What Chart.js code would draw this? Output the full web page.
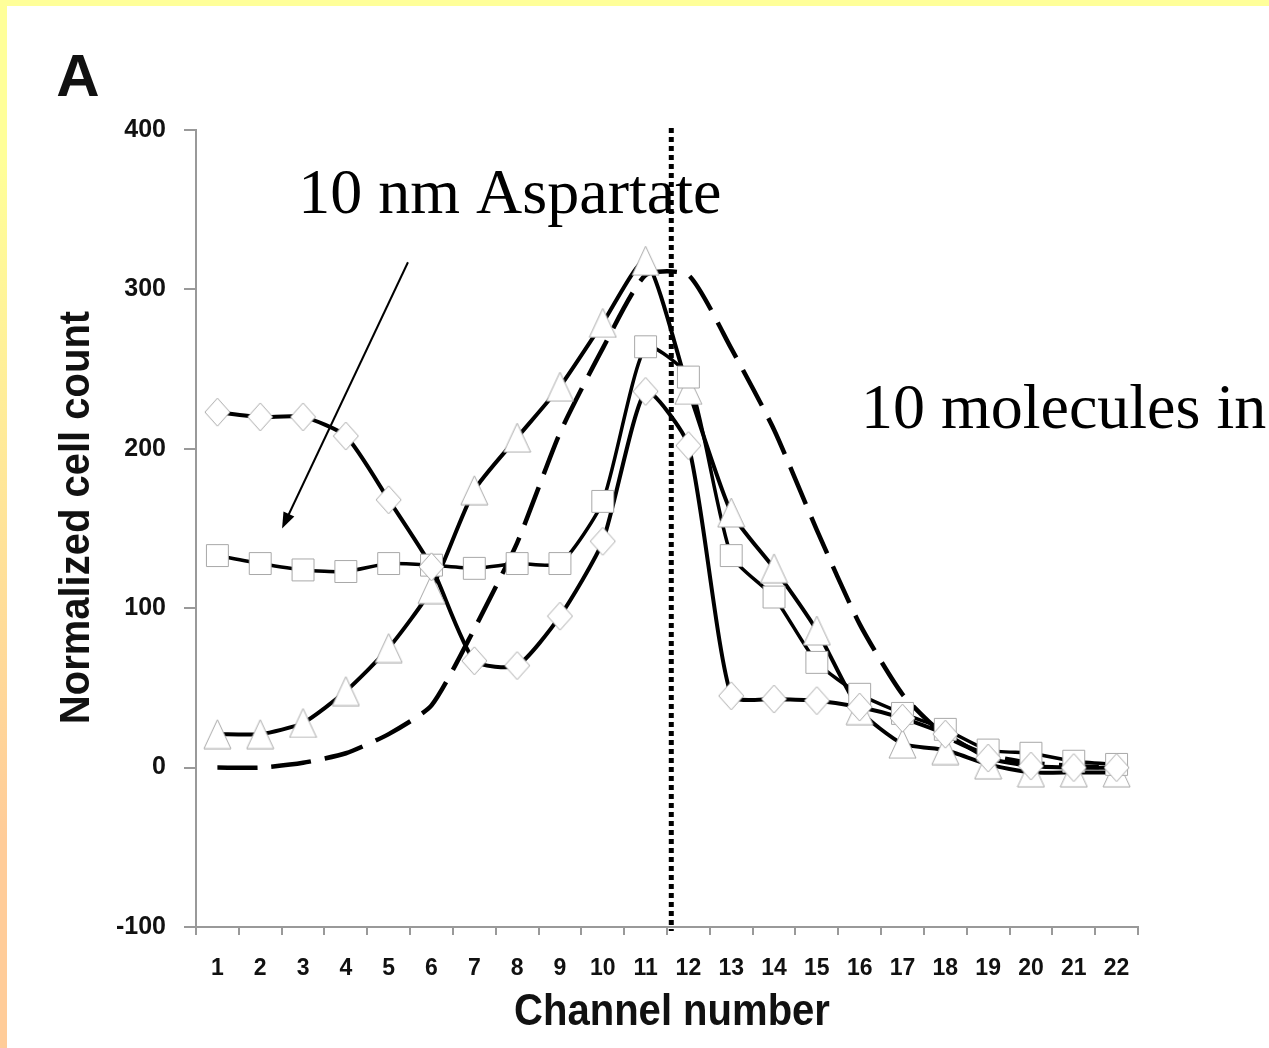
<!DOCTYPE html>
<html>
<head>
<meta charset="utf-8">
<script src="https://cdn.jsdelivr.net/npm/chart.js@4.4.1/dist/chart.umd.min.js"></script>
<style>
  html, body { margin: 0; padding: 0; background: #fff; }
  #wrap { position: relative; width: 1269px; height: 1048px; overflow: hidden; background: #fff; }
  #topband { position: absolute; left: 0; top: 0; width: 1269px; height: 6px; background: #ffff99; }
  #leftband { position: absolute; left: 0; top: 0; width: 7px; height: 1048px;
              background: linear-gradient(#ffff99 0%, #ffff99 15%, #ffcc99 80%, #ffcc99 100%); }
  canvas { position: absolute; left: 0; top: 0; }
</style>
</head>
<body>
<div id="wrap">
  <div id="topband"></div>
  <div id="leftband"></div>
  <canvas id="chart" width="1269" height="1048"></canvas>
</div>
<script>
// channel categories and the four curves
const channels = ['1', '2', '3', '4', '5', '6', '7', '8', '9', '10', '11',
                  '12', '13', '14', '15', '16', '17', '18', '19', '20', '21', '22'];
const diamondCounts  = [223, 220, 220, 208, 168, 126, 67, 64, 95, 142, 236, 202, 45, 43, 42, 38, 31, 21, 6, 1, 0, 0];
const squareCounts   = [133, 128, 124, 123, 128, 127, 125, 128, 128, 167, 264, 245, 133, 107, 66, 46, 34, 24, 11, 9, 4, 2];
const triangleCounts = [21, 21, 28, 48, 75, 112, 174, 207, 239, 279, 318, 237, 160, 125, 86, 36, 15, 11, 2, -3, -3, -3];
const plainCounts    = [0, 0, 3, 9, 21, 39, 87, 141, 210, 263, 309, 309, 263, 212, 149, 90, 46, 20, 8, 3, 1, 0];
const yTicks = [-100, 0, 100, 200, 300, 400];

// annotation anchors in data units (channel number, cell count)
const dividerChannel = 11.6;
const arrowFrom = [5.45, 317];
const arrowTo = [2.51, 150];
const labelAspartate = { text: '10 nm Aspartate', channel: 2.89, count: 348 };
const labelMolecules = { text: '10 molecules in', channel: 16.03, count: 213 };

const SANS = "'Liberation Sans', Arial, sans-serif";
const SERIF = "'Liberation Serif', 'Times New Roman', serif";

// hollow marker drawn on a little canvas so it can be taller than wide
function markerImage(w, h, shape) {
    const c = document.createElement('canvas');
    c.width = w + 2;
    c.height = h + 2;
    const g = c.getContext('2d');
    g.beginPath();
    if (shape === 'triangle') {
        g.moveTo(1 + w / 2, 1);
        g.lineTo(1 + w, 1 + h);
        g.lineTo(1, 1 + h);
    } else {
        g.moveTo(1 + w / 2, 1);
        g.lineTo(1 + w, 1 + h / 2);
        g.lineTo(1 + w / 2, 1 + h);
        g.lineTo(1, 1 + h / 2);
    }
    g.closePath();
    g.fillStyle = '#fff';
    g.fill();
    g.strokeStyle = '#a8a8a8';
    g.lineWidth = 1;
    g.stroke();
    return c;
}

function lineSet(data, dash, width) {
    return {
        data: data,
        borderColor: '#000',
        borderWidth: width,
        borderDash: dash,
        pointRadius: 0,
        tension: 0.2,
        fill: false,
        order: 2
    };
}

function markerSet(data, style, radius) {
    return {
        data: data,
        showLine: false,
        pointStyle: style,
        pointRadius: radius,
        pointBackgroundColor: '#fff',
        pointBorderColor: '#a8a8a8',
        pointBorderWidth: 1,
        order: 1
    };
}

function drawSqueezed(ctx, text, x, y, font, sx, rot) {
    ctx.save();
    ctx.translate(x, y);
    if (rot) ctx.rotate(rot);
    ctx.scale(sx, 1);
    ctx.font = font;
    ctx.textAlign = 'center';
    ctx.textBaseline = 'middle';
    ctx.fillText(text, 0, 0);
    ctx.restore();
}

const annotations = {
    id: 'annotations',
    afterDatasetsDraw(chart) {
        const ctx = chart.ctx;
        const xs = chart.scales.x, ys = chart.scales.y;
        const area = chart.chartArea;
        const px = c => xs.getPixelForValue(c - 1);
        const py = v => ys.getPixelForValue(v);

        ctx.save();
        // dotted divider
        ctx.strokeStyle = '#000';
        ctx.lineWidth = 5;
        ctx.setLineDash([5, 4]);
        ctx.beginPath();
        ctx.moveTo(px(dividerChannel), area.top - 2);
        ctx.lineTo(px(dividerChannel), area.bottom + 4);
        ctx.stroke();
        ctx.setLineDash([]);

        // arrow
        const x1 = px(arrowFrom[0]), y1 = py(arrowFrom[1]);
        const x2 = px(arrowTo[0]), y2 = py(arrowTo[1]);
        const ang = Math.atan2(y2 - y1, x2 - x1);
        ctx.lineWidth = 2;
        ctx.beginPath();
        ctx.moveTo(x1, y1);
        ctx.lineTo(x2 - 10 * Math.cos(ang), y2 - 10 * Math.sin(ang));
        ctx.stroke();
        ctx.beginPath();
        ctx.moveTo(x2, y2);
        ctx.lineTo(x2 - 16 * Math.cos(ang) + 6 * Math.sin(ang), y2 - 16 * Math.sin(ang) - 6 * Math.cos(ang));
        ctx.lineTo(x2 - 16 * Math.cos(ang) - 6 * Math.sin(ang), y2 - 16 * Math.sin(ang) + 6 * Math.cos(ang));
        ctx.closePath();
        ctx.fillStyle = '#000';
        ctx.fill();

        // texts
        ctx.fillStyle = '#000';
        ctx.textAlign = 'left';
        ctx.textBaseline = 'alphabetic';
        ctx.font = '64px ' + SERIF;
        ctx.fillText(labelAspartate.text, px(labelAspartate.channel), py(labelAspartate.count));
        ctx.fillText(labelMolecules.text, px(labelMolecules.channel), py(labelMolecules.count));

        // panel letter and axis titles
        ctx.fillStyle = '#111';
        drawSqueezed(ctx, 'A', area.left - 118, area.top - 51, 'bold 60px ' + SANS, 1, 0);
        drawSqueezed(ctx, 'Channel number', (area.left + area.right) / 2 + 5, area.bottom + 86,
                     'bold 44px ' + SANS, 0.91, 0);
        drawSqueezed(ctx, 'Normalized cell count', area.left - 119, (area.top + area.bottom) / 2 - 11,
                     'bold 43px ' + SANS, 0.93, -Math.PI / 2);
        ctx.restore();
    }
};

new Chart(document.getElementById('chart'), {
    type: 'line',
    data: {
        labels: channels,
        datasets: [
            markerSet(diamondCounts, markerImage(25, 28, 'diamond'), 14),
            markerSet(squareCounts, 'rect', 15.5),
            markerSet(triangleCounts, markerImage(27, 29, 'triangle'), 15),
            lineSet(diamondCounts, [], 4),
            lineSet(squareCounts, [], 3.5),
            lineSet(triangleCounts, [], 4),
            lineSet(plainCounts, [40, 14], 4.5)
        ]
    },
    options: {
        responsive: false,
        animation: false,
        clip: false,
        layout: { padding: { left: 0, top: 130, right: 131, bottom: 0 } },
        plugins: { legend: { display: false }, tooltip: { enabled: false } },
        scales: {
            x: {
                type: 'category',
                offset: true,
                grid: { offset: true, drawOnChartArea: false, tickLength: 8, color: '#999', lineWidth: 2 },
                border: { color: '#999', width: 2 },
                ticks: {
                    color: '#111', autoSkip: false, maxRotation: 0, padding: 20,
                    font: { family: SANS, weight: 'bold', size: 23 }
                },
                afterFit(s) { s.height = 121; }
            },
            y: {
                min: -100,
                max: 400,
                afterBuildTicks(s) { s.ticks = yTicks.map(v => ({ value: v })); },
                grid: { drawOnChartArea: false, tickLength: 12, color: '#999', lineWidth: 2 },
                border: { color: '#999', width: 2 },
                ticks: {
                    color: '#111', padding: 18,
                    font: { family: SANS, weight: 'bold', size: 25 }
                },
                afterFit(s) { s.width = 196; }
            }
        }
    },
    plugins: [annotations]
});
</script>
</body>
</html>
